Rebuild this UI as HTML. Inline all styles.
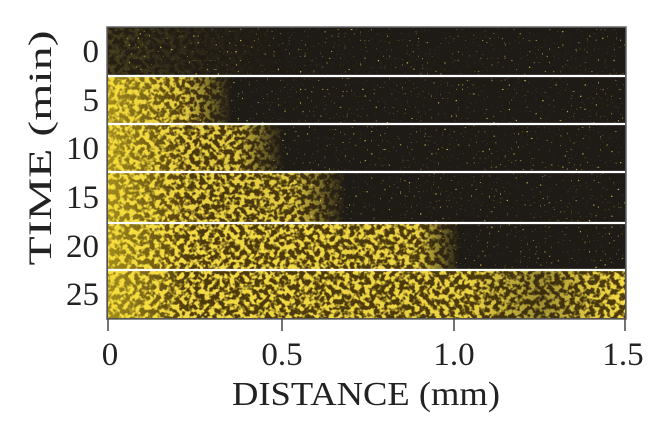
<!DOCTYPE html>
<html><head><meta charset="utf-8"><style>html,body{margin:0;padding:0;background:#fff}svg{display:block}</style></head>
<body>
<svg width="660" height="430" viewBox="0 0 660 430" xmlns="http://www.w3.org/2000/svg" font-family="Liberation Serif, serif" fill="#222">
<defs>
<filter id="nz" x="108" y="28" width="517" height="290" filterUnits="userSpaceOnUse">
<feTurbulence type="fractalNoise" baseFrequency="0.2" numOctaves="2" seed="7"/>
<feColorMatrix type="matrix" values="0 0 0 0 0.92  0 0 0 0 0.72  0 0 0 0 0.06  6 0 0 0 -2.6"/>
</filter>
<filter id="dots" x="108" y="28" width="517" height="290" filterUnits="userSpaceOnUse">
<feTurbulence type="fractalNoise" baseFrequency="0.45" numOctaves="1" seed="3"/>
<feColorMatrix type="matrix" values="0 0 0 0 0.55  0 0 0 0 0.4  0 0 0 0 0.06  10 0 0 0 -6.9"/>
</filter>
<linearGradient id="g0" gradientUnits="userSpaceOnUse" x1="108" x2="625"><stop offset="0" stop-color="#fff" stop-opacity="0.18"/><stop offset="0.2" stop-color="#fff" stop-opacity="0.05"/><stop offset="0.35" stop-color="#fff" stop-opacity="0"/></linearGradient>
<linearGradient id="g1" gradientUnits="userSpaceOnUse" x1="108" x2="625"><stop offset="0" stop-color="#fff"/><stop offset="0.15" stop-color="#fff" stop-opacity="0.9"/><stop offset="0.24" stop-color="#fff" stop-opacity="0"/></linearGradient>
<linearGradient id="g2" gradientUnits="userSpaceOnUse" x1="108" x2="625"><stop offset="0" stop-color="#fff"/><stop offset="0.25" stop-color="#fff" stop-opacity="0.9"/><stop offset="0.34" stop-color="#fff" stop-opacity="0"/></linearGradient>
<linearGradient id="g3" gradientUnits="userSpaceOnUse" x1="108" x2="625"><stop offset="0" stop-color="#fff"/><stop offset="0.36" stop-color="#fff" stop-opacity="0.9"/><stop offset="0.46" stop-color="#fff" stop-opacity="0"/></linearGradient>
<linearGradient id="g4" gradientUnits="userSpaceOnUse" x1="108" x2="625"><stop offset="0" stop-color="#fff"/><stop offset="0.6" stop-color="#fff" stop-opacity="0.95"/><stop offset="0.68" stop-color="#fff" stop-opacity="0"/></linearGradient>
<linearGradient id="g5" gradientUnits="userSpaceOnUse" x1="108" x2="625"><stop offset="0" stop-color="#fff"/><stop offset="0.7" stop-color="#fff" stop-opacity="0.95"/><stop offset="0.84" stop-color="#fff" stop-opacity="0.6"/><stop offset="0.93" stop-color="#fff" stop-opacity="0.9"/><stop offset="1" stop-color="#fff"/></linearGradient>
<linearGradient id="edge" gradientUnits="userSpaceOnUse" x1="108" x2="190"><stop offset="0" stop-color="#f4dc30" stop-opacity="0.5"/><stop offset="1" stop-color="#f4dc30" stop-opacity="0"/></linearGradient>
<g id="tex"><rect x="108" y="28" width="517" height="290" fill="#6e5206" opacity="0.6"/><rect x="108" y="28" width="517" height="290" filter="url(#nz)"/></g>
<mask id="m0" maskUnits="userSpaceOnUse"><rect x="108" y="28" width="517" height="48" fill="url(#g0)"/></mask>
<mask id="m1" maskUnits="userSpaceOnUse"><rect x="108" y="77" width="517" height="47" fill="url(#g1)"/></mask>
<mask id="m2" maskUnits="userSpaceOnUse"><rect x="108" y="125" width="517" height="47" fill="url(#g2)"/></mask>
<mask id="m3" maskUnits="userSpaceOnUse"><rect x="108" y="173" width="517" height="50" fill="url(#g3)"/></mask>
<mask id="m4" maskUnits="userSpaceOnUse"><rect x="108" y="224" width="517" height="46" fill="url(#g4)"/></mask>
<mask id="m5" maskUnits="userSpaceOnUse"><rect x="108" y="271" width="517" height="47" fill="url(#g5)"/></mask>
</defs>
<rect x="107" y="27" width="519" height="292" fill="#1e1a15" stroke="#666" stroke-width="1.5"/>
<rect x="108" y="28" width="517" height="290" filter="url(#dots)"/>
<use href="#tex" mask="url(#m0)"/>
<use href="#tex" mask="url(#m1)"/>
<use href="#tex" mask="url(#m2)"/>
<use href="#tex" mask="url(#m3)"/>
<use href="#tex" mask="url(#m4)"/>
<use href="#tex" mask="url(#m5)"/>
<rect x="108" y="77" width="82" height="241" fill="url(#edge)"/>
<g stroke="#fff" stroke-width="2.2">
<line x1="108" y1="76" x2="625" y2="76"/><line x1="108" y1="124" x2="625" y2="124"/><line x1="108" y1="172" x2="625" y2="172"/><line x1="108" y1="223" x2="625" y2="223"/><line x1="108" y1="270" x2="625" y2="270"/>
</g>
<g stroke="#444" stroke-width="1.5"><line x1="108" y1="319" x2="108" y2="331"/><line x1="282" y1="319" x2="282" y2="331"/><line x1="454" y1="319" x2="454" y2="331"/><line x1="625" y1="319" x2="625" y2="331"/></g>
<g font-size="33" text-anchor="end">
<text x="99" y="62">0</text><text x="99" y="111">5</text><text x="99" y="159">10</text><text x="99" y="208">15</text><text x="99" y="257">20</text><text x="99" y="305">25</text>
</g>
<g font-size="33" text-anchor="middle">
<text x="110" y="365">0</text><text x="282" y="365">0.5</text><text x="454" y="365">1.0</text><text x="623" y="365">1.5</text>
<text x="366" y="405" font-size="34" textLength="268" lengthAdjust="spacingAndGlyphs">DISTANCE (mm)</text>
<text transform="translate(51,148) rotate(-90)" font-size="33" textLength="235" lengthAdjust="spacingAndGlyphs">TIME (min)</text>
</g>
</svg>
</body></html>
